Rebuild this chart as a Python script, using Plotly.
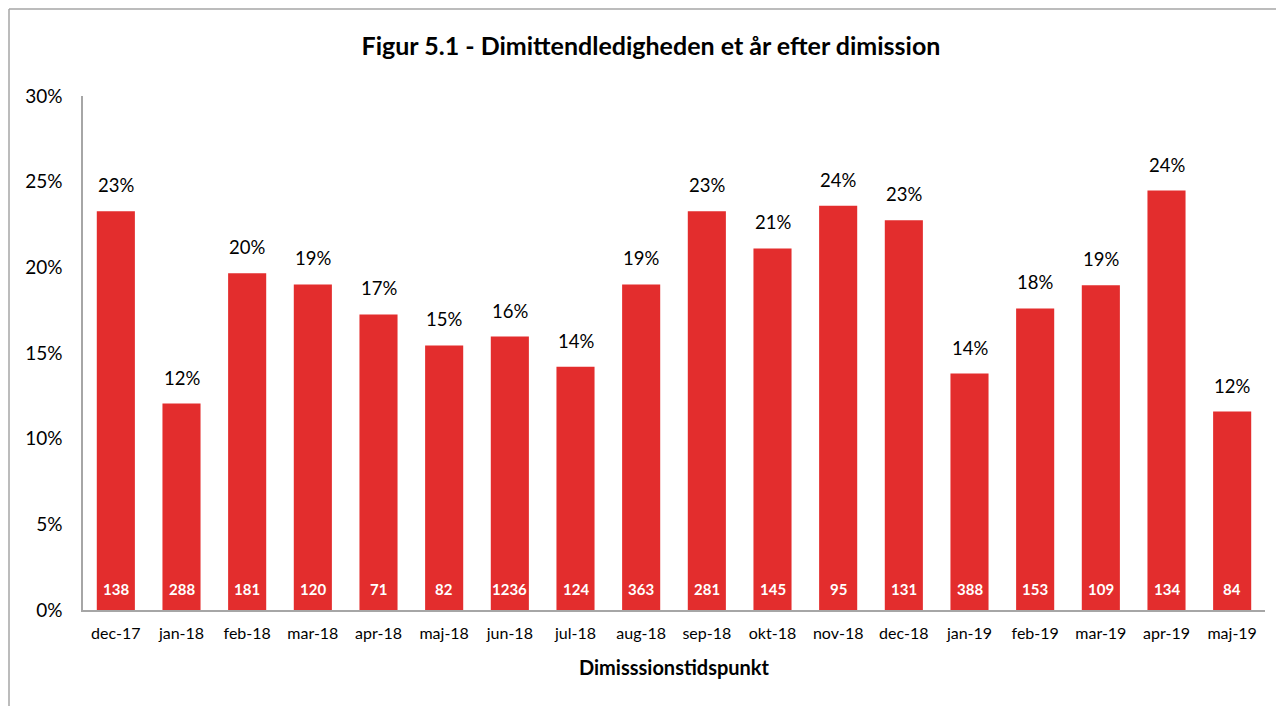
import plotly.graph_objects as go

categories = ["dec-17", "jan-18", "feb-18", "mar-18", "apr-18", "maj-18", "jun-18", "jul-18",
              "aug-18", "sep-18", "okt-18", "nov-18", "dec-18", "jan-19", "feb-19", "mar-19",
              "apr-19", "maj-19"]
rates = [0.2327, 0.1205, 0.1965, 0.1900, 0.1725, 0.1544, 0.1596, 0.1420,
         0.1900, 0.2327, 0.2110, 0.2360, 0.2275, 0.1380, 0.1760, 0.1895,
         0.2448, 0.1158]
counts = [138, 288, 181, 120, 71, 82, 1236, 124, 363, 281, 145, 95, 131, 388, 153, 109, 134, 84]
y_ticks = [0, 0.05, 0.10, 0.15, 0.20, 0.25, 0.30]

FONT = "Lato"
RED = "#E32D2D"

fig = go.Figure()
fig.add_trace(go.Bar(
    x=categories, y=rates, marker=dict(color=RED, line=dict(width=0)),
    width=0.58, hoverinfo="skip",
))

annotations = []
for c, r, n in zip(categories, rates, counts):
    annotations.append(dict(x=c, y=r, xref="x", yref="y", text=f"{round(r*100):d}%",
                            showarrow=False, yanchor="bottom", yshift=13,
                            font=dict(family=FONT, size=18.5, color="#000000")))
    annotations.append(dict(x=c, y=0, xref="x", yref="y", text=f"<b>{n}</b>",
                            showarrow=False, yanchor="middle", yshift=21,
                            font=dict(family=FONT, size=15, color="#FFFFFF")))

fig.update_layout(
    width=1284, height=706,
    margin=dict(l=75, r=27, t=88, b=104),
    paper_bgcolor="white", plot_bgcolor="white",
    showlegend=False,
    title=dict(text="<b>Figur 5.1 - Dimittendledigheden et år efter dimission</b>",
               x=(651 - 8) / 1284, xanchor="center", y=1 - 38 / 706, yanchor="middle",
               font=dict(family=FONT, size=25, color="#000000")),
    font=dict(family=FONT, color="#000000"),
    xaxis=dict(showline=True, linecolor="#A6A6A6", linewidth=1.5,
               ticks="outside", ticklen=8, tickcolor="rgba(0,0,0,0)",
               tickfont=dict(family=FONT, size=16, color="#000000"),
               title=dict(text="<b>Dimisssionstidspunkt</b>", standoff=20,
                          font=dict(family=FONT, size=20, color="#000000"))),
    yaxis=dict(range=[0, 0.30], tickvals=y_ticks, tickformat=".0%",
               showline=True, linecolor="#A6A6A6", linewidth=1.5, showgrid=False,
               zeroline=False, ticks="outside", ticklen=15, tickcolor="rgba(0,0,0,0)",
               tickfont=dict(family=FONT, size=19, color="#000000")),
    annotations=annotations,
    shapes=[
        dict(type="line", xref="paper", yref="paper", x0=-74/1182, x1=1.1,
             y0=1 + 87/514, y1=1 + 87/514, line=dict(color="#A6A6A6", width=1.5)),
        dict(type="line", xref="paper", yref="paper", x0=-74/1182, x1=-74/1182,
             y0=1 + 87/514, y1=-0.3, line=dict(color="#A6A6A6", width=1.5)),
    ],
)

fig.write_html("out.html")
